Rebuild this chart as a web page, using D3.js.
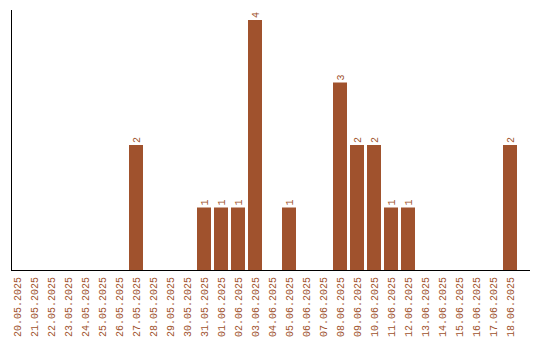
<!DOCTYPE html>
<html>
<head>
<meta charset="utf-8">
<script src="https://cdn.jsdelivr.net/npm/d3@7"></script>
<style>
body { margin: 0; background: #fff; }
text { font-family: "Liberation Mono", monospace; }
</style>
</head>
<body>
<div id="chart"></div>
<script>
var w = 540;
var h = 340;

var dates = ['20.05.2025', '21.05.2025', '22.05.2025', '23.05.2025', '24.05.2025',
	'25.05.2025', '26.05.2025', '27.05.2025', '28.05.2025', '29.05.2025',
	'30.05.2025', '31.05.2025', '01.06.2025', '02.06.2025', '03.06.2025',
	'04.06.2025', '05.06.2025', '06.06.2025', '07.06.2025', '08.06.2025',
	'09.06.2025', '10.06.2025', '11.06.2025', '12.06.2025', '13.06.2025',
	'14.06.2025', '15.06.2025', '16.06.2025', '17.06.2025', '18.06.2025']
var counts = [0, 0, 0, 0, 0, 0, 0, 2, 0, 0,
	0, 1, 1, 1, 4, 0, 1, 0, 0, 3,
	2, 2, 1, 1, 0, 0, 0, 0, 0, 2]

var colour = '#a0522d'
var base = 270

var svg = d3.select("#chart")
	.append("svg")
	.attr("width", w)
	.attr("height", h);

var x = d3.scaleBand()
	.domain(dates)
	.range([10, 517])
	.paddingInner(3 / 17)
	.paddingOuter(0)

var y = d3.scaleLinear()
	.domain([0, d3.max(counts) * 1.04])
	.range([base, 10])

// axes lines
svg.append('line')
	.attr('x1', 11.5).attr('x2', 11.5)
	.attr('y1', 10).attr('y2', base)
	.style('stroke', '#000')
svg.append('line')
	.attr('x1', 11).attr('x2', 530)
	.attr('y1', base + 0.5).attr('y2', base + 0.5)
	.style('stroke', '#000')

var data = dates.map(function (d, i) { return {date: d, n: counts[i]} })

svg.selectAll('.bar')
	.data(data.filter(function (d) { return d.n > 0 }))
	.enter()
	.append('rect')
	.classed('bar', true)
	.attr('x', function (d) { return x(d.date) })
	.attr('width', x.bandwidth())
	.attr('y', function (d) { return y(d.n) })
	.attr('height', function (d) { return base - y(d.n) })
	.style('fill', colour)

// value labels
svg.selectAll('.val')
	.data(data.filter(function (d) { return d.n > 0 }))
	.enter()
	.append('text')
	.classed('val', true)
	.attr('transform', function (d) {
		return 'translate(' + (x(d.date) + x.bandwidth() / 2 + 3.5) + ',' + (y(d.n) - 2) + ') rotate(-90)'
	})
	.style('font-size', '10px')
	.style('fill', colour)
	.text(function (d) { return d.n })

// date labels
svg.selectAll('.lab')
	.data(dates)
	.enter()
	.append('text')
	.classed('lab', true)
	.attr('transform', function (d) {
		return 'translate(' + (x(d) + x.bandwidth() / 2 + 3.5) + ',' + (base + 7) + ') rotate(-90)'
	})
	.attr('text-anchor', 'end')
	.style('font-size', '10px')
	.style('fill', colour)
	.text(function (d) { return d })
</script>
</body>
</html>
